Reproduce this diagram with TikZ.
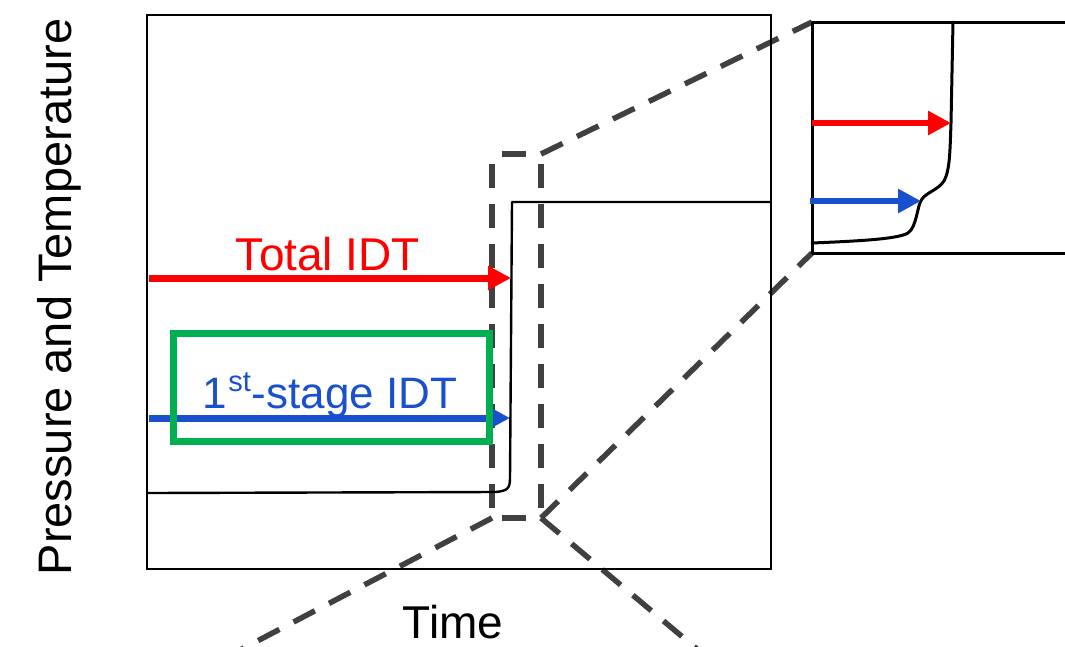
\documentclass[tikz,border=0pt]{standalone}
\usepackage{fontspec}
\setmainfont{Liberation Sans}
\usetikzlibrary{arrows.meta}
\definecolor{idtred}{RGB}{255,0,0}
\definecolor{idtblue}{RGB}{25,80,205}
\definecolor{boxgreen}{RGB}{0,176,80}
\definecolor{zoomgray}{RGB}{64,64,64}
% raised ordinal suffix, slightly larger than \textsuperscript
\newcommand{\ordsup}[1]{\kern1pt\raisebox{17pt}{\fontsize{29}{30}\selectfont #1}\kern1pt}
\begin{document}
\begin{tikzpicture}[x=1pt,y=-1pt,
  frame/.style={draw=black, line width=1.8pt},
  trace/.style={draw=black, line width=2.4pt, line join=round},
  insettrace/.style={draw=black, line width=3pt, line join=round, line cap=round},
  zoomline/.style={draw=zoomgray, line width=5.5pt, dash pattern=on 24pt off 16pt},
  windowedge/.style={zoomline, dash phase=30pt},
  idtarrow/.style={line width=7pt, -{Triangle[length=23pt,width=23pt]}},
  insetarrow/.style={line width=6pt, -{Triangle[length=23pt,width=23pt]}},
  lbl/.style={inner sep=0pt, anchor=base, font=\fontsize{46}{50}\selectfont},
]
\useasboundingbox (0,0) rectangle (1065,646);
\fill[white] (0,0) rectangle (1065,646);

% key points
\coordinate (zTL) at (492,154);
\coordinate (zTR) at (541,154);
\coordinate (zBL) at (492,518);
\coordinate (zBR) at (541,518);
\coordinate (iTL) at (812,22);
\coordinate (iBL) at (812,253);
\coordinate (offL) at (221,660);
\coordinate (offR) at (710,660);

\begin{scope}
\clip (0,0) rectangle (1065,646);
% zoom window, each side dashed on its own so corners stay open
\draw[windowedge] (zTL) -- (zTR);
\draw[windowedge] (zTL) -- (zBL);
\draw[windowedge] (zTR) -- (zBR);
\draw[windowedge] (zBL) -- (zBR);
% guide lines out of the window
\draw[zoomline] (zTR) -- (iTL);
\draw[zoomline] (zBR) -- (iBL);
\draw[zoomline] (zBL) -- (offL);
\draw[zoomline] (zBR) -- (offR);

% main plot frame and pressure trace
\draw[frame] (147,15) rectangle (771,569);
\draw[trace] (147,493) -- (495,492) .. controls (507,491) and (510,489) .. (510,478)
  -- (512,202) -- (771,202);

% magnified inset
\draw[insettrace] (1075,22) -- (iTL) -- (iBL) -- (1075,253);
\draw[insettrace] (812,243) .. controls (860,241) and (898,239) .. (908,233)
  .. controls (917,227) and (917,205) .. (922,199)
  .. controls (927,192) and (938,190) .. (944,181)
  .. controls (950,170) and (950,150) .. (951,123)
  -- (953,22);
\end{scope}

% delay arrows
\coordinate (rS) at (149,278);
\coordinate (rE) at (511,278);
\coordinate (bS) at (149,418);
\coordinate (bE) at (510,418);
\coordinate (irS) at (812,123);
\coordinate (irE) at (951,123);
\coordinate (ibS) at (810,201);
\coordinate (ibE) at (921,201);
\draw[idtarrow, idtred] (rS) -- (rE);
\draw[idtarrow, idtblue] (bS) -- (bE);
\draw[insetarrow, idtred] (irS) -- (irE);
\draw[insetarrow, idtblue] (ibS) -- (ibE);

% highlight box
\node[draw=boxgreen, line width=7pt, minimum width=316pt, minimum height=108pt, inner sep=0pt]
  (hl) at (331,387) {};

% labels
\node[lbl, text=idtred] (total) at (328,270) {Total IDT};
\node[lbl, text=idtblue, font=\fontsize{44}{48}\selectfont] (first) at (330,408) {1\ordsup{st}-stage IDT};
\node[lbl] (time) at (453,638) {Time};
\node[lbl, rotate=90, font=\fontsize{47}{50}\selectfont] (ylab) at (71,297) {Pressure and Temperature};
\end{tikzpicture}
\end{document}
